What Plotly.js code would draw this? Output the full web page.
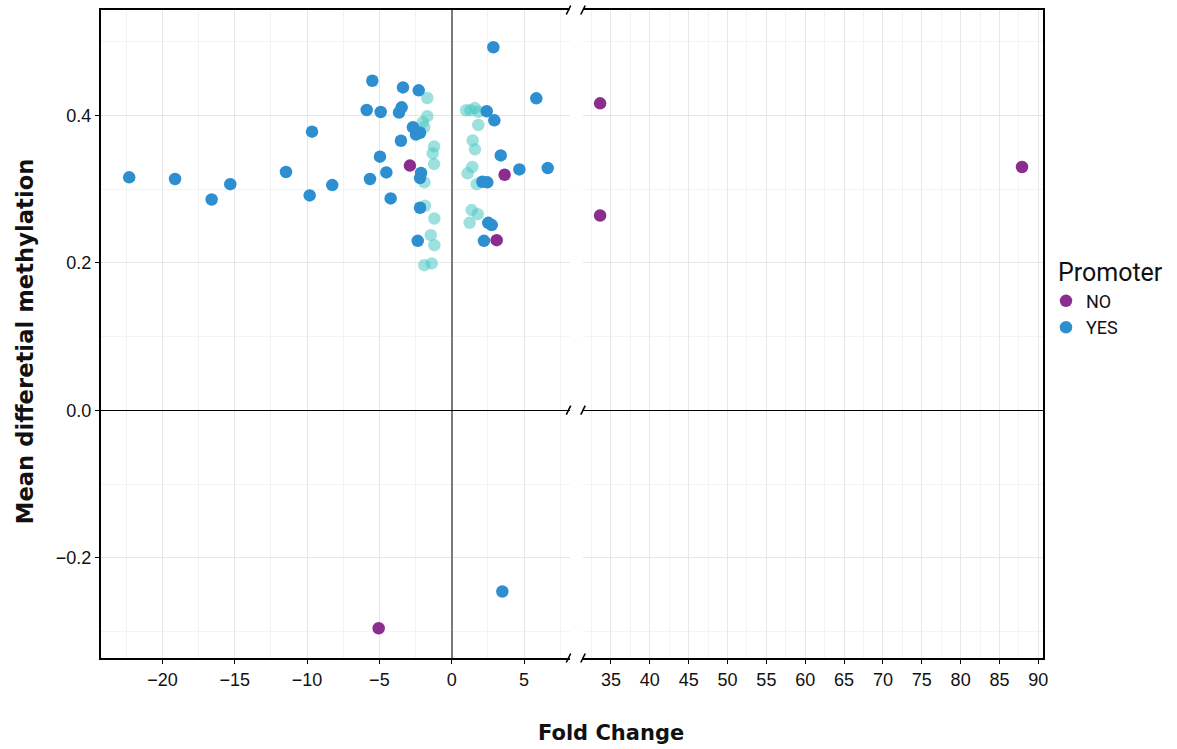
<!DOCTYPE html>
<html>
<head>
<meta charset="utf-8">
<script src="https://cdn.plot.ly/plotly-3.0.1.min.js"></script>
<style>html,body{margin:0;padding:0;background:#fff}#chart{width:1177px;height:749px}</style>
</head>
<body>
<div id="chart"></div>
<script>
// ---- data ----
const noFold = [-5.05, 33.6, 33.6, 87.9, -2.89, 3.66, 3.11];
const noMeth = [-0.2956, 0.4164, 0.2643, 0.330, 0.332, 0.3195, 0.2308];

const yesFold = [2.88, -5.49, -3.37, -2.28, 5.85, -5.88, -4.91, -3.64, -3.46, 2.42, 2.95, -2.68, -2.47, -2.19, -3.51, -4.96, 3.39, 4.68, 6.64, -4.52, -5.65, -2.12, -2.19, 2.12, 2.46, -4.22, -2.19, 2.53, 2.77, -2.35, 2.23, 3.50, -22.3, -19.13, -16.6, -15.31, -11.46, -9.66, -9.82, -8.26];
const yesMeth = [0.4925, 0.447, 0.438, 0.434, 0.4232, 0.4073, 0.4046, 0.404, 0.411, 0.4056, 0.3933, 0.384, 0.374, 0.3765, 0.3657, 0.344, 0.3458, 0.3268, 0.3286, 0.3227, 0.3137, 0.322, 0.315, 0.310, 0.3092, 0.2874, 0.2747, 0.2543, 0.2512, 0.2299, 0.2299, -0.2458, 0.316, 0.3137, 0.286, 0.3068, 0.3232, 0.378, 0.2915, 0.3055];

const otherFold = [-1.69, -1.69, 1.0, 1.3, 1.6, 1.85, 1.84, -2.0, -1.9, 1.45, -1.22, -1.31, 1.61, -1.22, 1.42, -1.89, 1.1, 1.73, 1.38, 1.80, -1.85, -1.2, 1.24, -1.45, -1.2, -1.89, -1.38];
const otherMeth = [0.4236, 0.399, 0.407, 0.407, 0.410, 0.405, 0.387, 0.391, 0.384, 0.366, 0.358, 0.3485, 0.354, 0.334, 0.330, 0.3092, 0.3214, 0.3068, 0.2716, 0.2661, 0.2774, 0.2602, 0.2543, 0.2376, 0.224, 0.1969, 0.1992];

const leftTicks = [-20, -15, -10, -5, 0, 5];
const rightTicks = [35, 40, 45, 50, 55, 60, 65, 70, 75, 80, 85, 90];
const yTicks = [-0.2, 0.0, 0.2, 0.4];

const BREAK = 20;
const colNO = '#8B2D8F', colYES = '#2E8FD0', colOther = '#4CC8C4';

function split(xs, ys, right) {
  const ox = [], oy = [];
  xs.forEach((x, i) => { if ((x > BREAK) === right) { ox.push(x); oy.push(ys[i]); } });
  return {x: ox, y: oy};
}
function mk(xs, ys, right, color, opacity, name, show, rank) {
  const s = split(xs, ys, right);
  return {
    type: 'scatter', mode: 'markers', x: s.x, y: s.y,
    xaxis: right ? 'x2' : 'x', yaxis: right ? 'y2' : 'y',
    marker: {color: color, size: 12.5, opacity: opacity, line: {width: 0}},
    name: name, legendgroup: name, showlegend: show, legendrank: rank,
    hoverinfo: 'x+y'
  };
}
const traces = [
  mk(otherFold, otherMeth, false, colOther, 0.55, 'other', false, 3),
  mk(yesFold, yesMeth, false, colYES, 1, 'YES', true, 2),
  mk(yesFold, yesMeth, true, colYES, 1, 'YES', false, 2),
  mk(noFold, noMeth, false, colNO, 1, 'NO', true, 1),
  mk(noFold, noMeth, true, colNO, 1, 'NO', false, 1)
];

const L = 101, R = 1043, T = 10, B = 657.7;
const W = R - L, H = B - T;
const px = v => (v - L) / W;
const py = v => (B - v) / H;

const titleFont = {family: 'DejaVu Sans, sans-serif', size: 21, weight: 700, color: '#111'};
const tickFont = {family: 'Liberation Sans, Arial, sans-serif', size: 18, color: '#111'};
const gridCommon = {
  showgrid: true, gridcolor: '#E6E6E6', gridwidth: 1,
  showline: true, linecolor: '#000', linewidth: 2,
  ticks: 'outside', ticklen: 4, tickcolor: '#000', tickwidth: 1,
  tickfont: tickFont, fixedrange: true
};

const xaxis = Object.assign({}, gridCommon, {
  domain: [0, px(570)], range: [-24.25, 8.18], anchor: 'y', mirror: true,
  tickvals: leftTicks, ticktext: leftTicks.map(v => v < 0 ? '\u2212' + Math.abs(v) : String(v)),
  minor: {dtick: 2.5, tick0: 0, showgrid: true, gridcolor: '#F3F3F3', gridwidth: 1, ticks: ''},
  zeroline: true, zerolinecolor: '#7A7A7A', zerolinewidth: 1.5
});
const xaxis2 = Object.assign({}, gridCommon, {
  domain: [px(583), 1], range: [31.4, 90.6], anchor: 'y2', mirror: true,
  tickvals: rightTicks, ticktext: rightTicks.map(String),
  minor: {dtick: 2.5, tick0: 0, showgrid: true, gridcolor: '#F3F3F3', gridwidth: 1, ticks: ''},
  zeroline: false
});
const yaxis = Object.assign({}, gridCommon, {
  domain: [0, 1], range: [-0.336, 0.543], anchor: 'x', side: 'left',
  tickvals: yTicks, ticktext: yTicks.map(v => v < 0 ? '\u2212' + Math.abs(v).toFixed(1) : v.toFixed(1)),
  minor: {dtick: 0.1, tick0: 0, showgrid: true, gridcolor: '#F3F3F3', gridwidth: 1, ticks: ''},
  zeroline: true, zerolinecolor: '#000', zerolinewidth: 1
});
const yaxis2 = Object.assign({}, gridCommon, {
  domain: [0, 1], range: [-0.336, 0.543], anchor: 'x2', side: 'right', matches: 'y',
  tickvals: yTicks, showticklabels: false, ticks: '',
  minor: {dtick: 0.1, tick0: 0, showgrid: true, gridcolor: '#F3F3F3', gridwidth: 1, ticks: ''},
  zeroline: true, zerolinecolor: '#000', zerolinewidth: 1
});

// break marks (decoration)
const shapes = [];
[B, T, 410].forEach(yy => {
  [568.5, 583].forEach(xx => {
    shapes.push({type: 'line', xref: 'paper', yref: 'paper',
      x0: px(xx - 2.2), y0: py(yy + 4.5), x1: px(xx + 2.2), y1: py(yy - 4.5),
      line: {color: '#000', width: 1.6}});
  });
});

const layout = {
  width: 1177, height: 749,
  margin: {l: L, r: 1177 - R, t: T, b: 749 - B},
  paper_bgcolor: '#fff', plot_bgcolor: '#fff',
  xaxis: xaxis, xaxis2: xaxis2, yaxis: yaxis, yaxis2: yaxis2,
  showlegend: true,
  legend: {x: px(1046), y: py(314), xanchor: 'left', yanchor: 'middle',
    font: {family: 'Roboto, DejaVu Sans, sans-serif', size: 18, color: '#111'},
    itemwidth: 30, tracegroupgap: 0, bgcolor: 'rgba(0,0,0,0)'},
  shapes: shapes,
  annotations: [
    {text: 'Fold Change', xref: 'paper', yref: 'paper', x: px(611), y: py(733),
     xanchor: 'center', yanchor: 'middle', showarrow: false, font: titleFont},
    {text: 'Mean differetial methylation', xref: 'paper', yref: 'paper', x: px(25), y: py(341),
     xanchor: 'center', yanchor: 'middle', showarrow: false, textangle: -90,
     font: Object.assign({}, titleFont, {size: 22.7})},
    {text: 'Promoter', xref: 'paper', yref: 'paper', x: px(1056), y: py(272),
     xanchor: 'left', yanchor: 'middle', showarrow: false,
     font: {family: 'Roboto, DejaVu Sans, sans-serif', size: 25, color: '#111'}}
  ],
  hovermode: 'closest'
};

Plotly.newPlot('chart', traces, layout, {displayModeBar: false});
</script>
</body>
</html>
